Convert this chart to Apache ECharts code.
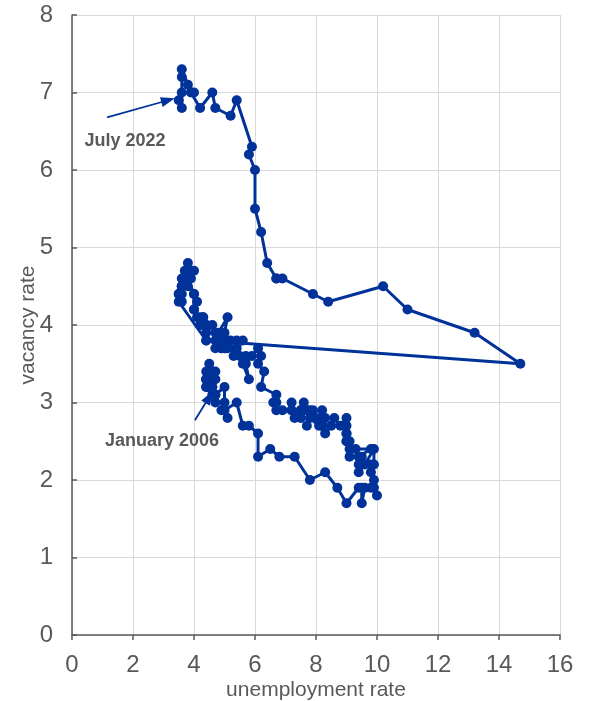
<!DOCTYPE html>
<html><head><meta charset="utf-8">
<script src="https://cdn.jsdelivr.net/npm/echarts@6/dist/echarts.min.js"></script>
<style>html,body{margin:0;padding:0;background:#fff}#c{width:590px;height:701px}</style>
</head><body><div id="c"></div>
<script>
// Monthly unemployment rate (x) and vacancy rate (y), Jan 2006 - Jul 2022
const unemp2006_2019 = [
 4.5,4.4,4.4,4.5,4.6,4.6,4.7,4.7,4.5,4.4,4.5,4.4,
 4.6,4.5,4.4,4.5,4.4,4.6,4.7,4.6,4.7,4.7,4.7,5.0,
 5.0,4.9,5.1,5.0,5.4,5.6,5.8,6.1,6.1,6.5,6.8,7.3,
 7.8,8.3,8.7,9.0,9.4,9.5,9.5,9.6,9.8,10.0,9.9,9.9,
 9.8,9.8,9.9,9.9,9.6,9.4,9.4,9.5,9.5,9.4,9.8,9.3,
 9.1,9.0,9.0,9.1,9.0,9.1,9.0,9.0,9.0,8.8,8.6,8.5,
 8.3,8.3,8.2,8.2,8.2,8.2,8.2,8.1,7.8,7.8,7.7,7.9,
 8.0,7.7,7.5,7.6,7.5,7.5,7.3,7.2,7.2,7.2,6.9,6.7,
 6.6,6.7,6.7,6.2,6.3,6.1,6.2,6.1,5.9,5.7,5.8,5.6,
 5.7,5.5,5.4,5.4,5.6,5.3,5.2,5.1,5.0,5.0,5.1,5.0,
 4.8,4.9,5.0,5.1,4.8,4.9,4.8,4.9,5.0,4.9,4.7,4.7,
 4.7,4.6,4.4,4.4,4.4,4.3,4.3,4.4,4.3,4.2,4.2,4.1,
 4.0,4.1,4.0,4.0,3.8,4.0,3.8,3.8,3.7,3.8,3.8,3.9,
 4.0,3.8,3.8,3.7,3.6,3.6,3.7,3.6,3.5,3.6,3.6,3.6
];
const vacancy2006_2019 = [
 3.2,3.3,3.4,3.5,3.3,3.4,3.3,3.4,3.3,3.2,3.3,3.3,
 3.2,3.3,3.3,3.2,3.2,3.2,3.1,3.1,3.0,3.1,3.1,3.2,
 3.0,2.9,2.8,2.9,3.0,2.7,2.7,2.6,2.3,2.4,2.3,2.3,
 2.0,2.1,1.9,1.7,1.9,1.9,1.7,1.9,1.9,1.8,1.9,2.0,
 2.2,2.1,2.2,2.4,2.2,2.1,2.2,2.3,2.2,2.3,2.4,2.4,
 2.4,2.5,2.5,2.3,2.6,2.5,2.7,2.6,2.8,2.7,2.8,2.7,
 2.6,2.8,2.9,2.7,2.8,2.8,2.7,2.7,2.8,2.9,2.7,2.9,
 2.8,2.9,2.8,3.0,2.9,2.9,2.8,2.9,3.0,2.9,2.9,2.9,
 3.0,3.0,3.1,3.2,3.4,3.5,3.6,3.7,3.6,3.5,3.3,3.5,
 3.6,3.6,3.7,3.8,3.8,3.6,3.8,3.7,3.7,3.8,3.8,3.7,
 3.8,3.7,3.9,4.1,3.9,3.8,3.8,3.7,3.8,3.8,3.7,3.8,
 3.9,4.0,3.9,3.8,4.0,4.1,4.0,4.0,4.1,4.1,4.0,4.1,
 4.2,4.3,4.2,4.4,4.5,4.4,4.6,4.6,4.7,4.6,4.7,4.6,
 4.7,4.8,4.7,4.6,4.5,4.6,4.6,4.5,4.4,4.5,4.4,4.3
];
const unemp2020_2022 = [
 3.5,3.5,4.4,14.7,13.2,11.0,10.2,8.4,7.9,6.9,6.7,6.7,
 6.4,6.2,6.0,6.0,5.8,5.9,5.4,5.2,4.7,4.6,4.2,3.9,
 4.0,3.8,3.6,3.6,3.6,3.6,3.5
];
const vacancy2020_2022 = [
 4.4,4.3,3.8,3.5,3.9,4.2,4.5,4.3,4.4,4.6,4.6,4.6,
 4.8,5.2,5.5,6.0,6.2,6.3,6.9,6.7,6.8,7.0,6.8,7.0,
 7.0,7.1,7.3,7.2,7.0,6.8,6.9
];
const xTicks = [0,2,4,6,8,10,12,14,16];
const yTicks = [0,1,2,3,4,5,6,7,8];
const annotations = [
  {text:'July 2022', label:[1.74,6.37], from:[1.15,6.68], to:[3.15,6.9]},
  {text:'January 2006', label:[2.95,2.5], from:[4.03,2.77], to:[4.5,3.07]}
];

const unemp = unemp2006_2019.concat(unemp2020_2022);
const vac = vacancy2006_2019.concat(vacancy2020_2022);
const pts = unemp.map((u,i)=>[u,vac[i]]);
const BLUE = '#003299';
const GREY = '#595959';

const chart = echarts.init(document.getElementById('c'));
chart.setOption({
  animation:false,
  grid:{left:72,right:30,top:15,bottom:66,containLabel:false,outerBoundsMode:'none'},
  xAxis:{type:'value',min:xTicks[0],max:xTicks[xTicks.length-1],interval:2,
    name:'unemployment rate',nameLocation:'middle',nameGap:45,nameMoveOverlap:false,
    nameTextStyle:{fontFamily:'Liberation Sans',fontSize:21,color:GREY},
    axisLine:{show:true,lineStyle:{color:GREY,width:1.5}},
    axisTick:{show:true,inside:false,length:5,lineStyle:{color:GREY,width:1.5}},
    axisLabel:{fontFamily:'Liberation Sans',fontSize:24,color:GREY,margin:18},
    splitLine:{show:true,lineStyle:{color:'#d9d9d9',width:1}}},
  yAxis:{type:'value',min:yTicks[0],max:yTicks[yTicks.length-1],interval:1,
    name:'vacancy rate',nameLocation:'middle',nameGap:33,nameRotate:90,nameMoveOverlap:false,
    nameTextStyle:{fontFamily:'Liberation Sans',fontSize:21,color:GREY},
    axisLine:{show:true,lineStyle:{color:GREY,width:1.5}},
    axisTick:{show:true,inside:true,length:5,lineStyle:{color:GREY,width:1.5}},
    axisLabel:{fontFamily:'Liberation Sans',fontSize:24,color:GREY,margin:19},
    splitLine:{show:true,lineStyle:{color:'#d9d9d9',width:1}}},
  series:[{
    type:'line',data:pts,symbol:'circle',symbolSize:10,showSymbol:true,
    lineStyle:{color:BLUE,width:3},itemStyle:{color:BLUE},
    markLine:{silent:true,symbol:['none','triangle'],symbolSize:[10,14],
      lineStyle:{color:BLUE,width:1.8,type:'solid'},label:{show:false},
      data:annotations.map(a=>[{coord:a.from},{coord:a.to}])},
    markPoint:{silent:true,symbol:'circle',symbolSize:0,
      data:annotations.map(a=>({coord:a.label,value:a.text,
        label:{show:true,formatter:a.text,position:'inside',color:GREY,
          fontFamily:'Liberation Sans',fontWeight:'bold',fontSize:18}}))}
  }]
});
</script></body></html>
